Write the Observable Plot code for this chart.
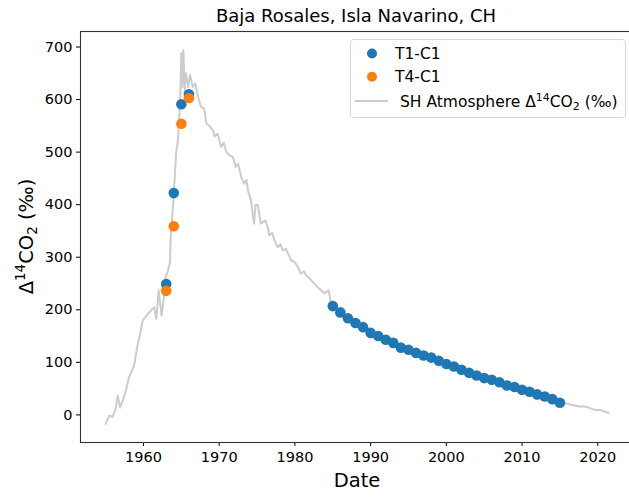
<!DOCTYPE html>
<html><head><meta charset="utf-8">
<script src="https://cdn.jsdelivr.net/npm/d3@7"></script>
<script src="https://cdn.jsdelivr.net/npm/@observablehq/plot@0.6"></script>
<style>
body{margin:0;background:#fff;}
#wrap{position:relative;width:629px;height:501px;overflow:hidden;font-family:"DejaVu Sans",sans-serif;}
#title{position:absolute;left:80px;width:552px;top:0;height:31px;line-height:32px;text-align:center;font-size:18px;color:#000;}
#legend{position:absolute;left:350px;top:39px;}
</style></head><body>
<div id="wrap"><div id="chart"></div><div id="title">Baja Rosales, Isla Navarino, CH</div></div>
<script>
// SH atmosphere Δ14CO2 record
const atmYears = [1955.0,1955.5,1955.9,1956.3,1956.6,1956.9,1957.25,1957.7,1958.1,1958.5,1958.8,1959.2,1959.5,1959.9,1960.3,1961.0,1961.4,1961.7,1962.0,1962.4,1962.7,1962.9,1963.2,1963.5,1963.6,1963.95,1964.3,1964.55,1964.7,1964.85,1965.0,1965.13,1965.26,1965.45,1965.6,1965.9,1966.15,1966.5,1966.85,1967.2,1967.6,1968.0,1968.3,1968.7,1969.15,1969.4,1969.8,1970.25,1970.6,1970.9,1971.35,1971.8,1972.2,1972.5,1972.9,1973.3,1973.6,1973.8,1974.2,1974.6,1974.8,1975.1,1975.5,1976.1,1976.4,1976.6,1977.0,1977.3,1977.75,1978.1,1978.4,1978.8,1979.1,1979.5,1979.95,1980.4,1980.8,1981.2,1981.5,1981.8,1982.15,1982.5,1982.8,1983.2,1983.5,1983.9,1984.45,1984.7,
1985.2,1985.7,1986.2,1986.7,1987.2,1987.7,1988.2,1988.7,1989.2,1989.7,1990.2,1990.7,1991.2,1991.7,1992.2,1992.7,1993.2,1993.7,1994.2,1994.7,1995.2,1995.7,1996.2,1996.7,1997.2,1997.7,1998.2,1998.7,1999.2,1999.7,2000.2,2000.7,2001.2,2001.7,2002.2,2002.7,2003.2,2003.7,2004.2,2004.7,2005.2,2005.7,2006.2,2006.7,2007.2,2007.7,2008.2,2008.7,2009.2,2009.7,2010.2,2010.7,2011.2,2011.7,2012.2,2012.7,2013.2,2013.7,2014.2,2014.7,2015.2,2015.7,2016.3,2017.0,2017.6,2018.2,2018.75,2019.3,2019.9,2020.3,2020.6,2021.0,2021.4];
const atmValues = [-17,-1,-4,10,37,14,27,48,72,85,97,132,150,180,187,199,205,183,237,189,224,262,272,291,340,408,497,523,561,605,688,624,694,618,650,624,647,624,631,605,586,583,555,550,542,530,535,510,518,502,494,491,472,478,453,440,447,427,408,364,400,399,364,370,358,342,346,332,319,325,313,316,307,294,291,281,269,273,265,262,256,251,246,240,237,231,237,218,
205,200,194,189,184,180,175,170,166,160,155,152,149,145,142,139,136,131,127,126,123,120,117,115,112,110,108,105,102,99,96,94,91,88,85,82,79,77,74,72,69,68,66,63,61,58,55,54,52,50,47,45,43,41,38,36,34,32,29,27,24,22,20,18,16,16,14,11,9,10,8,6,4];

// T1-C1 samples
const t1Years = [1963,1964,1965,1966,1985,1986,1987,1988,1989,1990,1991,1992,1993,1994,1995,1996,1997,1998,1999,2000,2001,2002,2003,2004,2005,2006,2007,2008,2009,2010,2011,2012,2013,2014,2015];
const t1Values = [249,422,591,610,207,195,184,175,167,156,150,143,137,128,124,118,113,109,103,97,92,86,80,75,70,67,62,56,53,48,44,39,35,30,23];

// T4-C1 samples
const t4Years = [1963,1964,1965,1966];
const t4Values = [236,359,554,603];

const xTicks = [1960,1970,1980,1990,2000,2010,2020];
const yTicks = [0,100,200,300,400,500,600,700];

const seriesNames = ["T1-C1","T4-C1"];
const seriesColors = ["#1f77b4","#ff7f0e"];
const lineColor = "#cccccc";

const atm = atmYears.map((y,i)=>({year:y, value:atmValues[i]}));
const t1 = t1Years.map((y,i)=>({year:y, value:t1Values[i]}));
const t4 = t4Years.map((y,i)=>({year:y, value:t4Values[i]}));

const chart = Plot.plot({
  width: 629, height: 501,
  marginTop: 31, marginBottom: 59, marginLeft: 80, marginRight: -4,
  style: {fontFamily: "DejaVu Sans", fontSize: "14.5px", overflow: "hidden", background: "white", color: "#000"},
  x: {domain: [1951.68, 2024.72]},
  y: {domain: [-52.5, 729.5]},
  marks: [
    Plot.line(atm, {x: "year", y: "value", stroke: lineColor, strokeWidth: 2}),
    Plot.dot(t1, {x: "year", y: "value", r: 5.3, fill: seriesColors[0]}),
    Plot.dot(t4, {x: "year", y: "value", r: 5.3, fill: seriesColors[1]}),
    Plot.axisX({ticks: xTicks, tickFormat: "d", tickSize: 4, tickPadding: 5, label: null}),
    Plot.axisY({ticks: yTicks, tickSize: 4, tickPadding: 4, label: null}),
    Plot.frame({stroke: "#333", strokeWidth: 1.1}),
    Plot.text(["Date"], {text: d => d, frameAnchor: "bottom", dy: 44, fontSize: 19.5})
  ]
});
document.getElementById("chart").appendChild(chart);

// y-axis label with super/subscripts
const svg = d3.select(chart);
const yl = svg.append("text")
  .attr("transform", "translate(26,236.5) rotate(-90)")
  .attr("text-anchor", "middle")
  .attr("font-size", 19.5)
  .attr("font-family", "DejaVu Sans")
  .attr("fill", "#000")
  .attr("dy", "0.35em");
yl.append("tspan").text("Δ");
yl.append("tspan").attr("dy", -8).attr("font-size", 13.5).text("14");
yl.append("tspan").attr("dy", 8).text("CO");
yl.append("tspan").attr("dy", 4).attr("font-size", 13.5).text("2");
yl.append("tspan").attr("dy", -4).text(" (‰)");

// legend
const leg = d3.select("#wrap").append("svg").attr("id", "legend").attr("width", 277).attr("height", 80);
leg.append("rect").attr("x", 0.5).attr("y", 0.5).attr("width", 275).attr("height", 78).attr("rx", 3)
  .attr("fill", "white").attr("fill-opacity", 0.8).attr("stroke", "#d6d6d6");
seriesNames.forEach((n, i) => {
  const cy = 14.5 + i * 23.2;
  leg.append("circle").attr("cx", 22).attr("cy", cy).attr("r", 5).attr("fill", seriesColors[i]);
  leg.append("text").attr("x", 45).attr("y", cy).attr("dy", "0.36em").attr("font-size", 15.5)
    .attr("font-family", "DejaVu Sans").attr("fill", "#000").text(n);
});
leg.append("line").attr("x1", 5).attr("x2", 38).attr("y1", 62).attr("y2", 62).attr("stroke", lineColor).attr("stroke-width", 2);
const lt = leg.append("text").attr("x", 50).attr("y", 62).attr("dy", "0.36em").attr("font-size", 15.5)
  .attr("font-family", "DejaVu Sans").attr("fill", "#000");
lt.append("tspan").text("SH Atmosphere Δ");
lt.append("tspan").attr("dy", -6).attr("font-size", 11).text("14");
lt.append("tspan").attr("dy", 6).text("CO");
lt.append("tspan").attr("dy", 3.5).attr("font-size", 11).text("2");
lt.append("tspan").attr("dy", -3.5).text(" (‰)");
</script>
</body></html>
